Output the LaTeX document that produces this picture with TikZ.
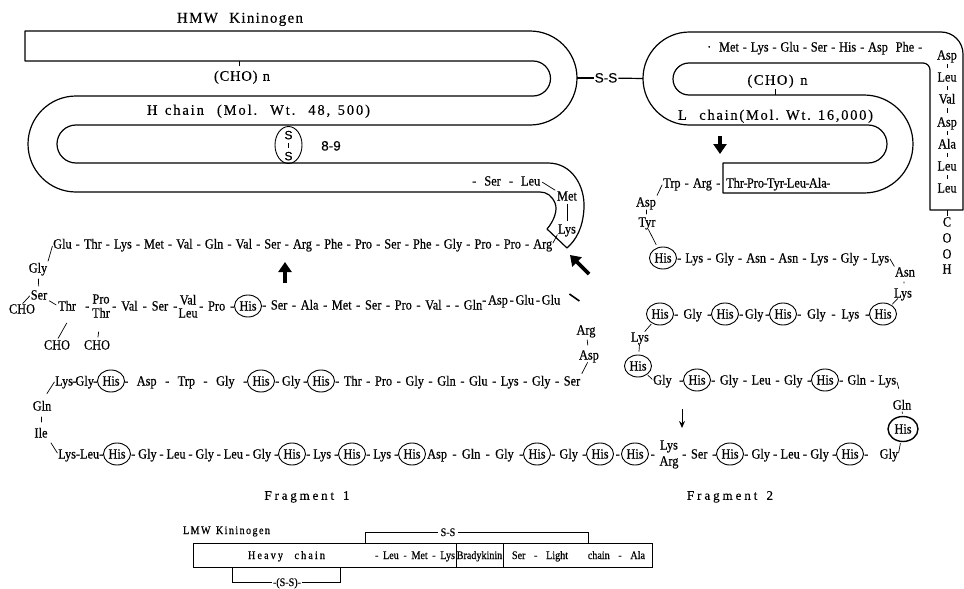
\documentclass[tikz,border=0pt]{standalone}
\usepackage{fontspec}
\setmainfont{Liberation Serif}
\newfontfamily\aaf[FakeStretch=0.88,FakeBold=0.4]{Liberation Serif}
\newfontfamily\lbf[FakeBold=0.3]{Liberation Serif}
\newfontfamily\ssf[FakeBold=0.3]{Liberation Sans}
\usetikzlibrary{shapes.geometric,arrows.meta,calc}
\makeatletter
\newcommand\lsp[2]{\makebox[#1pt][s]{\@tfor\lsp@c:=#2\do{\lsp@c\hfil}\unskip}}
\makeatother
\newcommand\rgl{\hskip 0pt plus 1fil minus 1.5pt\relax}
\newcommand\rhy{\rgl-\rgl}
\newcommand\rseg[5]{\node[aa,anchor=west] (#1) at (#2,#4) {\makebox[\dimexpr #3pt-#2pt\relax][s]{#5}};}
\begin{document}
\begin{tikzpicture}[x=1pt,y=-1pt,
 aa/.style={inner sep=0pt,text height=9pt,text depth=0pt,font=\aaf\fontsize{14}{16}\selectfont},
 his/.style={aa,ellipse,draw,line width=0.9pt,minimum width=27pt,minimum height=22pt},
 lbl/.style={inner sep=0pt,text height=9.5pt,text depth=0pt,font=\lbf\fontsize{14.5}{17}\selectfont},
 sm/.style={inner sep=0pt,text height=8pt,text depth=0pt,font=\aaf\fontsize{11.5}{13}\selectfont},
 sans/.style={inner sep=1pt,text height=9pt,text depth=0pt,font=\ssf\fontsize{13.5}{15}\selectfont},
 band/.style={line width=1.2pt,line join=round},
 conn/.style={line width=0.7pt},
 lnk/.style={line width=0.7pt,shorten <=#1,shorten >=#1}, lnk/.default=3pt,
 bigarrow/.style={line width=3.6pt,-{Triangle[width=13pt,length=10pt]}},
 boxn/.style={draw,line width=1pt,minimum height=24pt,inner sep=0pt}]
\fill[white] (0,0) rectangle (964,589);
\useasboundingbox (0,0) rectangle (964,589);

% ---------- HMW kininogen, H chain ----------
\draw[band] (25,31) -- (530,31) arc[start angle=-90,end angle=90,radius=47]
  -- (76,125) arc[start angle=-90,end angle=-270,radius=19]
  -- (548,163) .. controls (572,163) and (585,186) .. (584,208)
  .. controls (583,228) and (576,240) .. (567,248) -- (547,229)
  .. controls (554,221) and (558,210) .. (555,203)
  .. controls (552,196) and (547,192) .. (540,192)
  -- (76,192) arc[start angle=90,end angle=270,radius=48]
  -- (533,96) arc[start angle=90,end angle=-90,radius=17.5] -- (25,61) -- cycle;

\node[lbl,font=\lbf\fontsize{15}{17}\selectfont] (hmw) at (240,18) {\lsp{126}{HMW~~Kininogen}};
\node[lbl] (choH) at (242,76) {\lsp{56}{(CHO)~n}};
\coordinate (hb1) at (239,61); \coordinate (hb2) at (239,66);
\draw[conn] (hb1) -- (hb2);
\node[lbl] (hch) at (258.5,110) {\lsp{223}{H~chain~~(Mol.~~Wt.~~48,~500)}};
\node[draw,ellipse,line width=0.9pt,minimum width=27pt,minimum height=37pt,inner sep=0pt] (ssH) at (288.5,145) {};
\node[sans,inner sep=0pt,text height=8.5pt,font=\ssf\fontsize{12}{13}\selectfont] (sH1) at (288.5,135) {S};
\node[sans,inner sep=0pt,text height=8.5pt,font=\ssf\fontsize{12}{13}\selectfont] (sH2) at (288.5,156) {S};
\draw[lnk=4pt] (sH1) -- (sH2);
\node[sans] (n89) at (331,146) {8-9};

% S-S link
\node[sans] (ss) at (606,78) {S-S};
\coordinate (hR) at (577,78); \coordinate (lL) at (643,78.5);
\draw[band] (hR) -- (ss); \draw[band] (ss) -- (lL);

% bend with Met / Lys
\rseg{sl}{472}{540}{181}{-\rgl Ser\rhy Leu}
\node[aa] (met) at (567,196) {Met};
\node[aa] (lysB) at (567,229) {Lys};
\draw[lnk=2pt] (sl.east) -- (met.north west);
\draw[lnk=3pt] (met) -- (lysB);

% ---------- L chain ----------
\draw[band] (689.5,125) arc[start angle=90,end angle=270,radius=46.5]
  -- (941,32) arc[start angle=-90,end angle=0,radius=22]
  -- (963,210) -- (930,210) -- (930,70) arc[start angle=0,end angle=-90,radius=7]
  -- (689,63) arc[start angle=-90,end angle=-270,radius=16]
  -- (864,95) arc[start angle=-90,end angle=90,radius=49]
  -- (723,193) -- (723,163) -- (868,163) arc[start angle=90,end angle=-90,radius=19] -- cycle;

\rseg{ltop}{707}{922}{47}{·\rgl\rgl Met\rhy Lys\rhy Glu\rhy Ser\rhy His\rhy Asp\rgl\rgl Phe\rgl-}
\node[lbl] (choL) at (777.5,80) {\lsp{60}{(CHO)~n}};
\coordinate (lb1) at (775,89); \coordinate (lb2) at (775,95);
\draw[conn] (lb1) -- (lb2);
\node[lbl] (lch) at (775.5,115) {\lsp{195}{L~~chain(Mol.~Wt.~16,000)}};

% C-terminal column
\node[aa] (c1) at (947,55) {Asp};
\node[aa] (c2) at (947,77) {Leu};
\node[aa] (c3) at (947,99) {Val};
\node[aa] (c4) at (947,122) {Asp};
\node[aa] (c5) at (947,144) {Ala};
\node[aa] (c6) at (947,166) {Leu};
\node[aa] (c7) at (947,188) {Leu};
\node[aa] (cC) at (947,222) {C};
\node[aa] (cO1) at (947,238) {O};
\node[aa] (cO2) at (947,254) {O};
\node[aa] (cH) at (947,269) {H};
\foreach \a/\b in {c1/c2,c2/c3,c3/c4,c4/c5,c5/c6,c6/c7}
  \draw[lnk=4.5pt] (\a) -- (\b);
\draw[conn,shorten <=17pt,shorten >=1pt] (c7) -- (cC);

% ---------- Fragment 1 ----------
\rseg{lA}{53}{552}{244}{Glu\rhy Thr\rhy Lys\rhy Met\rhy Val\rhy Gln\rhy Val\rhy Ser\rhy Arg\rhy Phe\rhy Pro\rhy Ser\rhy Phe\rhy Gly\rhy Pro\rhy Pro\rhy Arg}
\draw[lnk=1pt] (lA.east) -- (lysB.south west);
\node[aa] (gly1) at (38,268) {Gly};
\node[aa] (ser1) at (39,295) {Ser};
\node[aa] (cho1) at (22,309) {CHO};
\draw[lnk=2pt] (gly1.north east) -- (lA.west);
\draw[conn,shorten <=6pt,shorten >=4pt] (gly1) -- (ser1);
\draw[lnk=1pt] (cho1.north) -- (ser1.west);

\rseg{thr1}{58}{89}{306}{Thr\rgl-}
\node[aa] (pro1) at (101,299) {Pro};
\node[aa] (thr2) at (101,313) {Thr};
\rseg{vs}{112}{177}{306}{-\rgl Val\rhy Ser\rgl-}
\node[aa] (val1) at (188,300) {Val};
\node[aa] (leu1) at (188,313) {Leu};
\rseg{pro2}{199}{234}{306}{-\rgl Pro\rgl-}
\node[his] (hB1) at (248,306) {His};
\rseg{lB1}{262}{482}{305}{-\rgl Ser\rhy Ala\rhy Met\rhy Ser\rhy Pro\rhy Val\rhy-{}\rgl Gln}
\rseg{lB2}{482}{560}{300}{-\rgl Asp\rhy Glu\rhy Glu}
\draw[lnk=2pt] (ser1.south east) -- (thr1.west);
\node[aa] (cho2) at (57,345) {CHO};
\node[aa] (cho3) at (97,345) {CHO};
\draw[conn,shorten <=14pt,shorten >=2pt] (thr1.south) -- (cho2.north);
\draw[conn,shorten <=14pt,shorten >=3pt] (thr2) -- (cho3);

\node[aa] (arg1) at (586,330) {Arg};
\node[aa] (asp1) at (589,355) {Asp};
\draw[line width=1.6pt] ($(lB2.east)+(9,-6)$) -- ($(lB2.east)+(19,1)$);
\draw[lnk=5pt] (arg1) -- (asp1);

\rseg{lC1}{55}{97}{381}{Lys\rhy Gly\rgl-}
\node[his] (hC1) at (111,381) {His};
\rseg{lC2}{124}{247}{381}{-\rgl Asp\rhy Trp\rhy Gly\rgl-}
\node[his] (hC2) at (261,381) {His};
\rseg{lC3}{275}{307}{381}{-\rgl Gly\rgl-}
\node[his] (hC3) at (321,381) {His};
\rseg{lC4}{335}{580}{381}{-\rgl Thr\rhy Pro\rhy Gly\rhy Gln\rhy Glu\rhy Lys\rhy Gly\rhy Ser}
\draw[lnk=3pt] (asp1.south) -- (lC4.north east);

\node[aa] (gln1) at (42,406) {Gln};
\node[aa] (ile1) at (41,433) {Ile};
\draw[conn,shorten <=1pt,shorten >=9pt] (lC1.west) -- (gln1.north);
\draw[lnk=6pt] (gln1) -- (ile1);

\rseg{lD1}{58}{103}{454}{Lys\rhy Leu\rgl-}
\draw[conn,shorten <=6pt,shorten >=1pt] (ile1.south east) -- (lD1.west);
\node[his] (hD1) at (117,454) {His};
\rseg{lD2}{131}{278}{454}{-\rgl Gly\rhy Leu\rhy Gly\rhy Leu\rhy Gly\rgl-}
\node[his] (hD2) at (292,454) {His};
\rseg{lD3}{306}{338}{454}{-\rgl Lys\rgl-}
\node[his] (hD3) at (352,454) {His};
\rseg{lD4}{366}{398}{454}{-\rgl Lys\rgl-}
\node[his] (hD4) at (412,454) {His};
\rseg{lD5}{427}{523}{454}{Asp\rhy Gln\rhy Gly\rgl-}
\node[his] (hD5) at (537,454) {His};
\rseg{lD6}{551}{586}{454}{-\rgl Gly\rgl-}
\node[his] (hD6) at (600,454) {His};
\rseg{lD7}{614}{621}{454}{\hfil-\hfil}
\node[his] (hD7) at (635,454) {His};
\rseg{lD8}{649}{656}{454}{\hfil-\hfil}
\node[aa] (lys9) at (669,445) {Lys};
\node[aa] (arg9) at (669,461) {Arg};
\rseg{lD9}{682}{716}{454}{-\rgl Ser\rgl-}
\node[his] (hD8) at (730,454) {His};
\rseg{lD10}{744}{836}{454}{-\rgl Gly\rhy Leu\rhy Gly\rgl-}
\node[his] (hD9) at (850,454) {His};
\rseg{lD11}{864}{898}{454}{-\rgl Gly}

% ---------- Fragment 2 ----------
\rseg{trp}{663}{720}{183}{Trp\rhy Arg\rgl-}
\rseg{lbt}{726}{830}{183}{Thr\rhy Pro\rhy Tyr\rhy Leu\rhy Ala\rgl-}
\node[aa] (asp2) at (646,202) {Asp};
\node[aa] (tyr2) at (647,222) {Tyr};
\draw[lnk=2pt] (asp2.north east) -- (trp.west);
\draw[lnk=3pt] (asp2) -- (tyr2);
\node[his] (hE1) at (663,258) {His};
\draw[lnk=3pt] (tyr2.south) -- (hE1);
\rseg{lE1}{677}{889}{258}{-\rgl Lys\rhy Gly\rhy Asn\rhy Asn\rhy Lys\rhy Gly\rhy Lys}
\node[aa] (asn2) at (905,272) {Asn};
\node[aa] (lys2) at (903,293) {Lys};
\draw[lnk=1pt] (lE1.east) -- (asn2.north west);
\draw[lnk=5pt] (asn2) -- (lys2);

\node[his] (hF1) at (660,314) {His};
\rseg{lF1}{674}{711}{314}{-\rgl Gly\rgl-}
\node[his] (hF2) at (725,314) {His};
\rseg{lF2}{739}{769}{314}{-\rgl Gly\rgl-}
\node[his] (hF3) at (783,314) {His};
\rseg{lF3}{797}{869}{314}{-\rgl Gly\rhy Lys\rgl-}
\node[his] (hF4) at (883,314) {His};
\draw[lnk=1pt] (lys2) -- (hF4);
\node[aa] (lys3) at (640,337) {Lys};
\node[his] (hG0) at (638,366) {His};
\draw[lnk=1pt] (hF1) -- (lys3);
\draw[lnk=3pt] (lys3) -- (hG0);
\rseg{lG1}{653}{683}{380}{Gly\rgl-}
\draw[lnk=1pt] (hG0) -- (lG1.west);
\node[his] (hG1) at (697,380) {His};
\rseg{lG2}{711}{811}{380}{-\rgl Gly\rhy Leu\rhy Gly\rgl-}
\node[his] (hG2) at (825,380) {His};
\rseg{lG3}{839}{896}{380}{-\rgl Gln\rhy Lys}
\node[aa] (gln3) at (902,405) {Gln};
\draw[conn,shorten <=2pt,shorten >=12pt] (lG3.east) -- (gln3.north);
\node[his,line width=1.4pt,minimum width=30pt,minimum height=25pt] (hH) at (903,429) {His};
\draw[lnk=2pt] (gln3) -- (hH);
\draw[lnk=1pt] (hH) -- (lD11.east);

% arrows
\coordinate (a1s) at (589,274); \coordinate (a1e) at (570,255);
\draw[bigarrow] (a1s) -- (a1e);
\coordinate (a2s) at (285,283); \coordinate (a2e) at (285,262);
\draw[bigarrow] (a2s) -- (a2e);
\coordinate (a3s) at (720,136); \coordinate (a3e) at (720,154);
\draw[bigarrow] (a3s) -- (a3e);
\coordinate (a4s) at (682,409); \coordinate (a4e) at (682,428);
\draw[line width=1pt,-{Stealth[width=6pt,length=7pt]}] (a4s) -- (a4e);

\node[lbl,font=\lbf\fontsize{13}{15}\selectfont] (fr1) at (307,495) {\lsp{85}{Fragment~1}};
\node[lbl,font=\lbf\fontsize{13}{15}\selectfont] (fr2) at (730,495) {\lsp{86}{Fragment~2}};

% ---------- LMW kininogen ----------
\node[sm] (lmw) at (226.5,530) {\lsp{87}{LMW~Kininogen}};
\node[boxn,minimum width=263pt] (hcb) at (324.5,555) {};
\node[boxn,sm,draw,minimum height=24pt,minimum width=47pt] (bkb) at (479.5,555) {Bradykinin};
\node[boxn,minimum width=149pt] (lcb) at (577.5,555) {};
\node[sm] (hvy) at (286.5,555) {\lsp{77}{Heavy~~chain}};
\node[sm] (lml) at (415,555) {\makebox[80pt][s]{-\rgl Leu\rhy Met\rhy Lys}};
\node[sm] (slc) at (578.5,555) {\makebox[133pt][s]{Ser\rhy Light\rgl\rgl\ chain\rhy Ala}};
\node[sm,inner xsep=2pt] (ssU) at (448,532) {S-S};
\coordinate (bu1) at (365,543); \coordinate (bu2) at (365,532);
\coordinate (bu3) at (588,532); \coordinate (bu4) at (588,543);
\draw[line width=1pt] (bu1) -- (bu2) -- (ssU.west);
\draw[line width=1pt] (ssU.east) -- (bu3) -- (bu4);
\node[sm,inner xsep=1pt] (ssL) at (287,582) {-(S-S)-};
\coordinate (bl1) at (232,567); \coordinate (bl2) at (232,582);
\coordinate (bl3) at (340,582); \coordinate (bl4) at (340,567);
\draw[line width=1pt] (bl1) -- (bl2) -- (ssL.west);
\draw[line width=1pt] (ssL.east) -- (bl3) -- (bl4);
\end{tikzpicture}
\end{document}
